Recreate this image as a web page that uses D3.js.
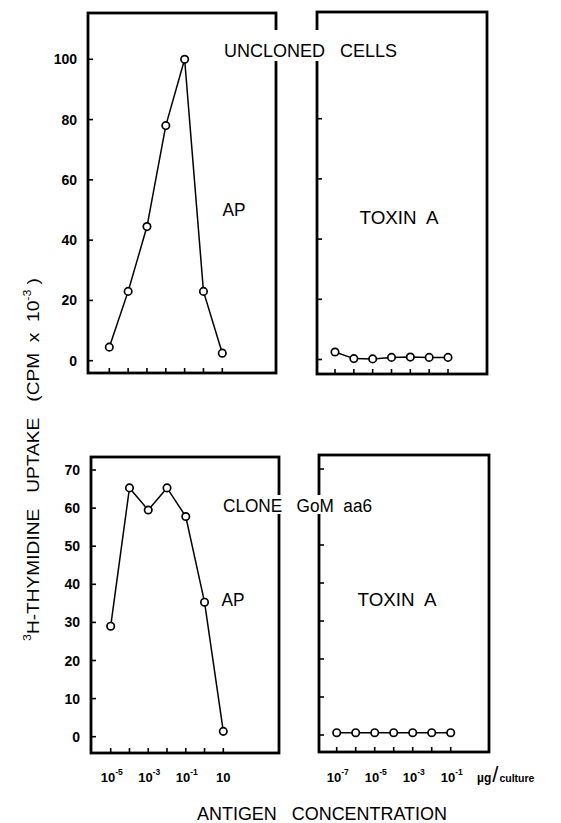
<!DOCTYPE html>
<html>
<head>
<meta charset="utf-8">
<script src="https://cdn.jsdelivr.net/npm/d3@7"></script>
<style>
  body { margin: 0; background: #fff; }
  text { font-family: "Liberation Sans", Arial, sans-serif; fill: #000; white-space: pre; }
</style>
</head>
<body>
<div id="chart"></div>
<script>
// data
const apConc = [1e-5, 1e-4, 1e-3, 1e-2, 1e-1, 1, 10];
const toxinConc = [1e-7, 1e-6, 1e-5, 1e-4, 1e-3, 1e-2, 1e-1];
const unclonedAP = [4.5, 23, 44.5, 78, 100, 23, 2.5];
const unclonedToxin = [2.5, 0.3, 0.2, 0.7, 0.8, 0.7, 0.7];
const cloneAP = [29, 65.3, 59.5, 65.3, 57.8, 35.3, 1.4];
const cloneToxin = [0.6, 0.6, 0.6, 0.6, 0.6, 0.6, 0.6];
const topTicks = [0, 20, 40, 60, 80, 100];
const bottomTicks = [0, 10, 20, 30, 40, 50, 60, 70];
const apLabels = [1e-5, 1e-3, 1e-1, 10];
const toxinLabels = [1e-7, 1e-5, 1e-3, 1e-1];

const width = 561, height = 823;
const svg = d3.select("#chart").append("svg").attr("width", width).attr("height", height);

const panels = [
  { box: [88, 276, 13, 373], x: d3.scaleLog().domain([1e-5, 10]).range([109.3, 222.3]),
    y: d3.scaleLinear().domain([0, 100]).range([360.7, 59.3]), conc: apConc, vals: unclonedAP,
    ticks: topTicks, yLabels: true, xLabels: null, name: "AP", nameAt: [234, 210] },
  { box: [317, 487, 12, 374], x: d3.scaleLog().domain([1e-7, 1e-1]).range([335, 448]),
    y: d3.scaleLinear().domain([0, 100]).range([359.5, 58.5]), conc: toxinConc, vals: unclonedToxin,
    ticks: topTicks, yLabels: false, xLabels: null, name: "TOXIN  A", nameAt: [399, 218] },
  { box: [91, 279, 457, 753], x: d3.scaleLog().domain([1e-5, 10]).range([110.7, 223.3]),
    y: d3.scaleLinear().domain([0, 70]).range([736.7, 470]), conc: apConc, vals: cloneAP,
    ticks: bottomTicks, yLabels: true, xLabels: apLabels, name: "AP", nameAt: [233, 600] },
  { box: [319, 489, 455, 752], x: d3.scaleLog().domain([1e-7, 1e-1]).range([336.7, 450.7]),
    y: d3.scaleLinear().domain([0, 70]).range([735, 469]), conc: toxinConc, vals: cloneToxin,
    ticks: bottomTicks, yLabels: false, xLabels: toxinLabels, name: "TOXIN  A", nameAt: [397, 600] }
];

panels.forEach(p => {
  const [x0, x1, y0, y1] = p.box;
  const g = svg.append("g");
  g.append("rect").attr("x", x0).attr("y", y0).attr("width", x1 - x0).attr("height", y1 - y0)
    .attr("fill", "none").attr("stroke", "#000").attr("stroke-width", 2.8);

  // inward ticks
  g.selectAll(".yt").data(p.ticks).join("line")
    .attr("x1", x0).attr("x2", x0 + 5).attr("y1", d => p.y(d)).attr("y2", d => p.y(d))
    .attr("stroke", "#000").attr("stroke-width", 1.6);
  g.selectAll(".xt").data(p.conc).join("line")
    .attr("x1", d => p.x(d)).attr("x2", d => p.x(d)).attr("y1", y1).attr("y2", y1 - 5)
    .attr("stroke", "#000").attr("stroke-width", 1.6);

  if (p.yLabels) {
    g.selectAll(".yl").data(p.ticks).join("text")
      .attr("x", x0 - 11).attr("y", d => p.y(d)).attr("dy", "0.36em")
      .attr("text-anchor", "end").attr("font-size", 14).attr("font-weight", "bold")
      .text(d => d);
  }
  if (p.xLabels) {
    const t = g.selectAll(".xl").data(p.xLabels).join("text")
      .attr("x", d => p.x(d) + (d < 1 ? 1 : 0)).attr("y", 782)
      .attr("text-anchor", "middle").attr("font-size", 13).attr("font-weight", "bold");
    t.append("tspan").text("10");
    t.filter(d => d < 1).append("tspan").attr("font-size", 8.5).attr("dy", -7)
      .text(d => "-" + Math.round(-Math.log10(d)));
  }

  const line = d3.line().x((d, i) => p.x(p.conc[i])).y(d => p.y(d));
  g.append("path").datum(p.vals).attr("d", line)
    .attr("fill", "none").attr("stroke", "#000").attr("stroke-width", 1.5);
  g.selectAll("circle").data(p.vals).join("circle")
    .attr("cx", (d, i) => p.x(p.conc[i])).attr("cy", d => p.y(d)).attr("r", 3.7)
    .attr("fill", "#fff").attr("stroke", "#000").attr("stroke-width", 1.7);

  g.append("text").attr("x", p.nameAt[0]).attr("y", p.nameAt[1]).attr("dy", "0.36em")
    .attr("text-anchor", "middle").attr("font-size", 18)
    .attr("textLength", p.name === "AP" ? 23 : 79).attr("lengthAdjust", "spacingAndGlyphs")
    .text(p.name);
});

// panel titles, breaking the frames where they cross them
const titles = [
  { text: "UNCLONED   CELLS", x0: 224, x1: 397, y: 51, gap: [30, 61] },
  { text: "CLONE   GoM  aa6", x0: 223, x1: 372, y: 506, gap: [495, 514] }
];
titles.forEach(t => {
  svg.append("rect").attr("x", t.x0 - 2).attr("y", t.gap[0]).attr("width", t.x1 - t.x0 + 4)
    .attr("height", t.gap[1] - t.gap[0]).attr("fill", "#fff");
  svg.append("text").attr("x", t.x0).attr("y", t.y).attr("dy", "0.36em")
    .attr("font-size", 18)
    .attr("textLength", t.x1 - t.x0).attr("lengthAdjust", "spacingAndGlyphs")
    .text(t.text);
});

// unit label
const unit = svg.append("text").attr("x", 477).attr("y", 782).attr("font-weight", "bold");
unit.append("tspan").attr("font-size", 12).text("µg");
unit.append("tspan").attr("font-size", 22).attr("font-weight", "normal").attr("dx", 1).text("/");
unit.append("tspan").attr("font-size", 10.5).attr("dx", 1).text("culture");

// x axis title
svg.append("text").attr("x", 197).attr("y", 813).attr("dy", "0.36em")
  .attr("font-size", 19)
  .attr("textLength", 250).attr("lengthAdjust", "spacingAndGlyphs")
  .text("ANTIGEN   CONCENTRATION");

// y axis title
const yt = svg.append("text").attr("transform", "translate(39,641) rotate(-90)")
  .attr("font-size", 17)
  .attr("textLength", 363).attr("lengthAdjust", "spacingAndGlyphs");
yt.append("tspan").attr("font-size", 11).attr("dy", -8).text("3");
yt.append("tspan").attr("dy", 8).text("H-THYMIDINE   UPTAKE   (CPM  x  10");
yt.append("tspan").attr("font-size", 11).attr("dy", -8).text("-3");
yt.append("tspan").attr("dy", 8).text(" )");
</script>
</body>
</html>
